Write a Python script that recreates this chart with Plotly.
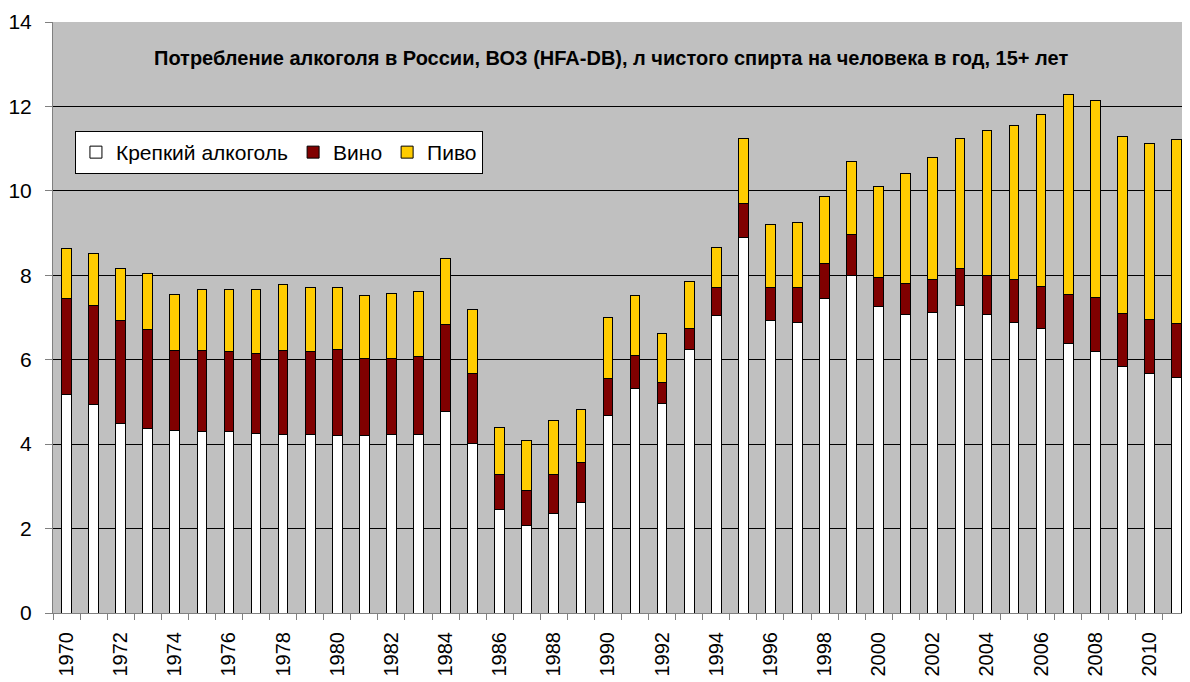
import plotly.graph_objects as go

years = [str(y) for y in range(1970, 2012)]

# litres of pure alcohol per capita (15+), by component
strong = [5.18, 4.93, 4.48, 4.38, 4.33, 4.31, 4.29, 4.25, 4.23, 4.23,
          4.21, 4.21, 4.23, 4.23, 4.78, 4.01, 2.45, 2.08, 2.35, 2.61,
          4.68, 5.33, 4.97, 6.25, 7.04, 8.90, 6.92, 6.89, 7.46, 7.99,
          7.26, 7.06, 7.11, 7.28, 7.06, 6.89, 6.74, 6.39, 6.20, 5.83,
          5.68, 5.58]
wine = [2.28, 2.35, 2.44, 2.34, 1.89, 1.91, 1.90, 1.90, 1.99, 1.96,
        2.03, 1.82, 1.81, 1.84, 2.06, 1.67, 0.82, 0.83, 0.92, 0.95,
        0.88, 0.78, 0.49, 0.50, 0.67, 0.79, 0.79, 0.82, 0.82, 0.98,
        0.69, 0.74, 0.80, 0.89, 0.94, 1.01, 0.99, 1.16, 1.27, 1.26,
        1.28, 1.28]
beer = [1.17, 1.23, 1.25, 1.33, 1.33, 1.45, 1.48, 1.52, 1.55, 1.53,
        1.46, 1.49, 1.53, 1.55, 1.55, 1.52, 1.13, 1.17, 1.28, 1.26,
        1.44, 1.41, 1.17, 1.10, 0.96, 1.54, 1.49, 1.54, 1.59, 1.73,
        2.16, 2.60, 2.89, 3.07, 3.44, 3.64, 4.08, 4.73, 4.66, 4.20,
        4.16, 4.36]

series_names = ["Крепкий алкоголь", "Вино", "Пиво"]
series_colors = ["#FFFFFF", "#800000", "#FFCC00"]
tick_text = [y if int(y) % 2 == 0 else "" for y in years]
y_ticks = [0, 2, 4, 6, 8, 10, 12, 14]
grid_ticks = [2, 4, 6, 8, 10, 12]
title_text = "Потребление алкоголя в России, ВОЗ (HFA-DB), л чистого спирта на человека в год, 15+ лет"

FONT = "Liberation Sans, Arial, sans-serif"

fig = go.Figure()
for name, vals, col in zip(series_names, [strong, wine, beer], series_colors):
    fig.add_trace(go.Bar(
        x=years, y=vals, name=name,
        marker=dict(color=col, line=dict(color="#000000", width=1)),
    ))
# empty helper trace so the overlay axis (inner gridlines only) is drawn
fig.add_trace(go.Scatter(x=[years[0]], y=[None], yaxis="y2",
                         showlegend=False, hoverinfo="skip", mode="lines"))

fig.update_layout(
    width=1190, height=682,
    barmode="stack", bargap=0.64,
    paper_bgcolor="#FFFFFF", plot_bgcolor="#C0C0C0",
    margin=dict(l=45, r=8, t=14, b=77),
    font=dict(family=FONT, color="#000000"),
    showlegend=True,
    legend=dict(
        orientation="h", x=0.0193, y=0.8156, xanchor="left", yanchor="top",
        bgcolor="#FFFFFF", bordercolor="#000000", borderwidth=1,
        font=dict(size=21, family=FONT, color="#000000"),
        traceorder="normal", itemwidth=30,
    ),
    annotations=[dict(
        text="<b>" + title_text + "</b>", x=0.4908, y=0.939,
        xref="paper", yref="paper", xanchor="center", yanchor="middle",
        showarrow=False, font=dict(size=20, family=FONT, color="#000000"),
    )],
    yaxis2=dict(
        overlaying="y", side="left", range=[0, 14], tickmode="array",
        tickvals=grid_ticks, showticklabels=False, ticks="",
        showgrid=True, gridcolor="#000000", gridwidth=1, zeroline=False,
        showline=False, automargin=False,
    ),
)

fig.update_xaxes(
    type="category", tickmode="array", tickvals=years, ticktext=tick_text,
    tickson="boundaries", ticks="outside", ticklen=6, tickcolor="#808080",
    tickangle=-90, tickfont=dict(size=20, family=FONT, color="#000000"),
    showline=True, linecolor="#808080", linewidth=1, showgrid=False,
    ticklabelstandoff=10, automargin=False,
)
fig.layout.yaxis.update(range=[0, 14], tickmode="array", tickvals=y_ticks,
                        ticks="outside", ticklen=7, tickcolor="#808080",
                        showline=True, linecolor="#808080", linewidth=1,
                        showgrid=False, zeroline=False, automargin=False,
                        tickfont=dict(size=21, family=FONT, color="#000000"),
                        ticklabelstandoff=9)

fig.write_html("out.html")
